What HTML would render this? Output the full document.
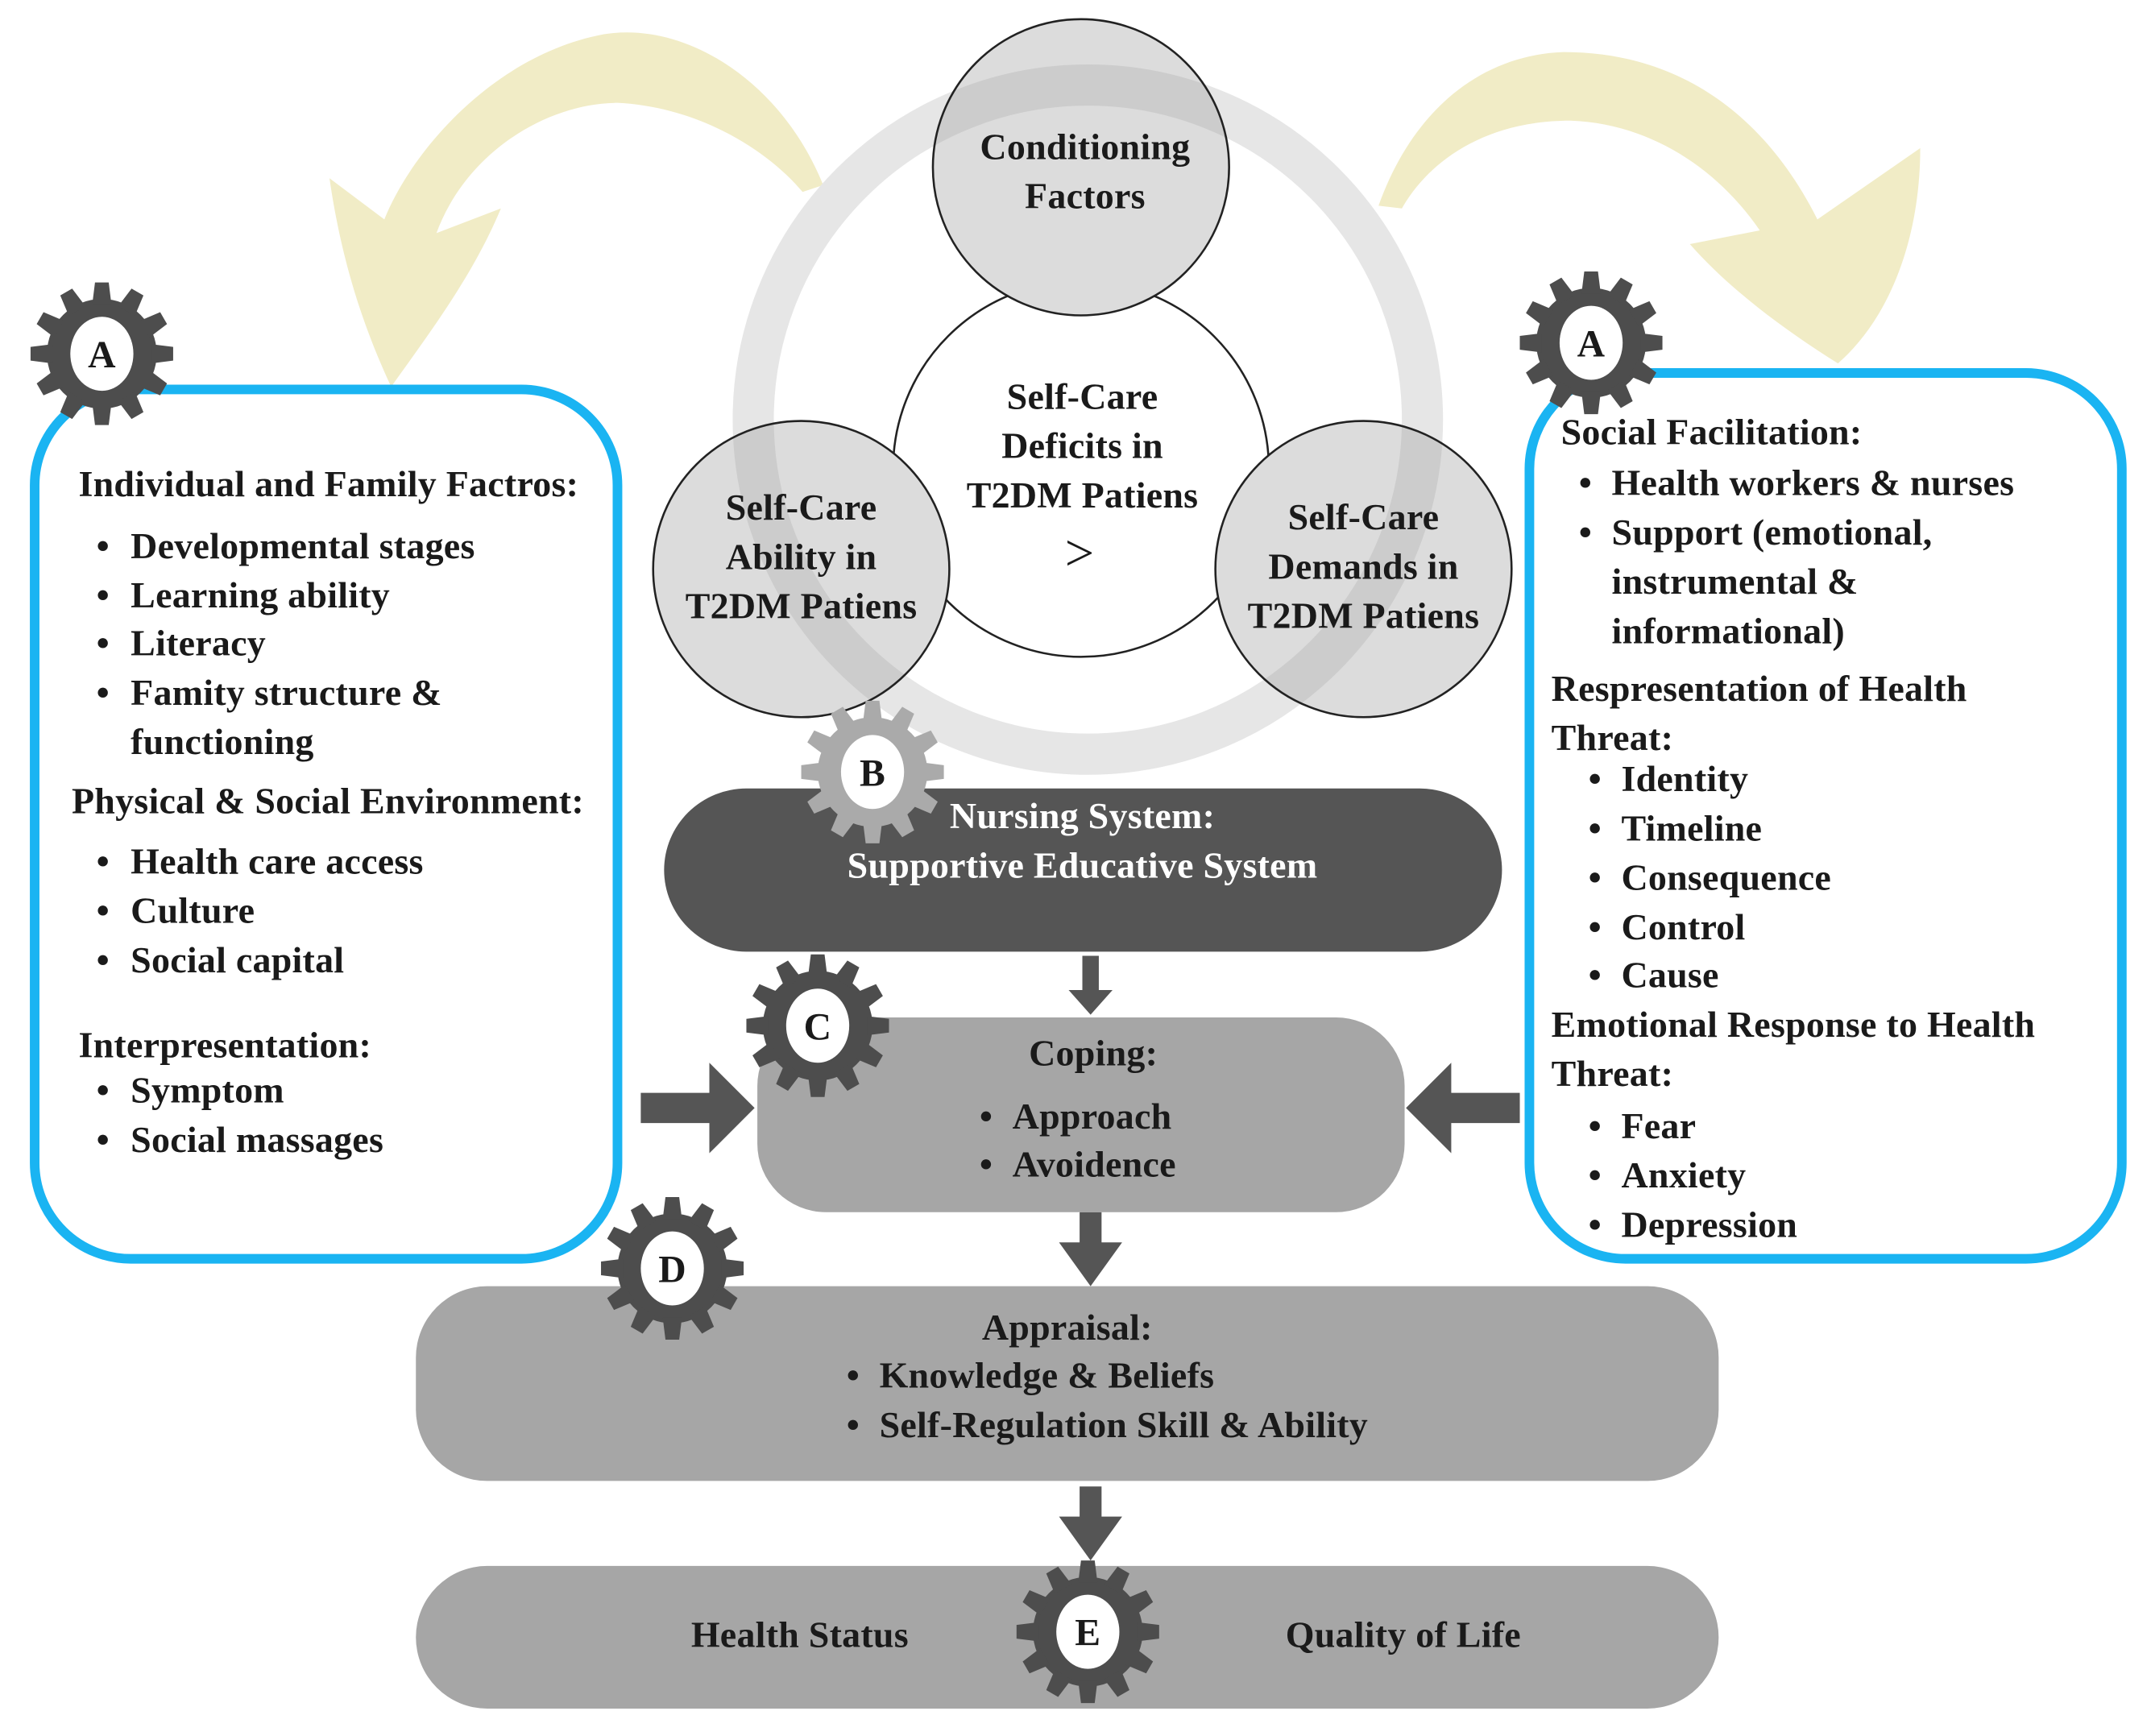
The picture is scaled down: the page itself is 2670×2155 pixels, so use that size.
<!DOCTYPE html>
<html><head><meta charset="utf-8"><style>
html,body{margin:0;padding:0;background:#fff;}
svg{display:block;}
text{font-family:"Liberation Serif",serif;font-weight:bold;fill:#1a1a1a;font-size:27px;letter-spacing:0.15px;}
</style></head><body>
<svg width="2670" height="2155" viewBox="0 0 1568 1266" xmlns="http://www.w3.org/2000/svg">
<defs>
<g id="gear">
<circle r="40" fill="currentColor"/>
<g fill="currentColor">
<path d="M-7,-36 L-5,-52 L5,-52 L7,-36Z"/>
<path d="M-7,-36 L-5,-52 L5,-52 L7,-36Z" transform="rotate(30)"/>
<path d="M-7,-36 L-5,-52 L5,-52 L7,-36Z" transform="rotate(60)"/>
<path d="M-7,-36 L-5,-52 L5,-52 L7,-36Z" transform="rotate(90)"/>
<path d="M-7,-36 L-5,-52 L5,-52 L7,-36Z" transform="rotate(120)"/>
<path d="M-7,-36 L-5,-52 L5,-52 L7,-36Z" transform="rotate(150)"/>
<path d="M-7,-36 L-5,-52 L5,-52 L7,-36Z" transform="rotate(180)"/>
<path d="M-7,-36 L-5,-52 L5,-52 L7,-36Z" transform="rotate(210)"/>
<path d="M-7,-36 L-5,-52 L5,-52 L7,-36Z" transform="rotate(240)"/>
<path d="M-7,-36 L-5,-52 L5,-52 L7,-36Z" transform="rotate(270)"/>
<path d="M-7,-36 L-5,-52 L5,-52 L7,-36Z" transform="rotate(300)"/>
<path d="M-7,-36 L-5,-52 L5,-52 L7,-36Z" transform="rotate(330)"/>
</g>
<ellipse rx="23" ry="27" fill="#fff"/>
</g>
<clipPath id="cc">
<circle cx="788" cy="122" r="108"/>
<circle cx="584" cy="415" r="108"/>
<circle cx="994" cy="415" r="108"/>
</clipPath>
</defs>

<!-- yellow arrows -->
<path d="M600,135 C570,60 500,15 440,25 C360,40 300,110 280,160 L240,130 C250,200 270,250 285,282 C315,240 345,200 365,152 L318,170 C340,110 400,75 450,75 C510,78 560,110 585,140 Z" fill="#f1ecc6"/>
<path d="M1005,150 C1030,80 1080,40 1140,38 C1230,38 1290,90 1325,160 L1400,108 C1400,170 1380,230 1340,265 C1300,240 1260,210 1232,178 L1283,168 C1250,120 1200,90 1145,88 C1080,88 1040,120 1022,152 Z" fill="#f1ecc6"/>

<!-- ring -->
<circle cx="793" cy="306" r="244" fill="none" stroke="#e6e6e6" stroke-width="30"/>

<!-- circles -->
<circle cx="788" cy="342" r="137" fill="#fff" stroke="#222" stroke-width="1.5"/>
<circle cx="788" cy="122" r="108" fill="#dcdcdc"/>
<circle cx="584" cy="415" r="108" fill="#dcdcdc"/>
<circle cx="994" cy="415" r="108" fill="#dcdcdc"/>
<circle cx="793" cy="306" r="244" fill="none" stroke="#aaa" stroke-opacity="0.3" stroke-width="30" clip-path="url(#cc)"/>
<g fill="none" stroke="#222" stroke-width="1.5">
<circle cx="788" cy="122" r="108"/>
<circle cx="584" cy="415" r="108"/>
<circle cx="994" cy="415" r="108"/>
</g>
<text x="791" y="116" text-anchor="middle">Conditioning</text>
<text x="791" y="152" text-anchor="middle">Factors</text>
<text x="789" y="298" text-anchor="middle">Self-Care</text>
<text x="789" y="334" text-anchor="middle">Deficits in</text>
<text x="789" y="370" text-anchor="middle">T2DM Patiens</text>
<text x="787" y="416" text-anchor="middle" style="font-size:38px;font-weight:normal">&gt;</text>
<text x="584" y="379" text-anchor="middle">Self-Care</text>
<text x="584" y="415" text-anchor="middle">Ability in</text>
<text x="584" y="451" text-anchor="middle">T2DM Patiens</text>
<text x="994" y="386" text-anchor="middle">Self-Care</text>
<text x="994" y="422" text-anchor="middle">Demands in</text>
<text x="994" y="458" text-anchor="middle">T2DM Patiens</text>

<!-- side boxes -->
<rect x="25" y="284" width="425" height="634" rx="70" fill="#fff" stroke="#1ab4f2" stroke-width="7"/>
<rect x="1115" y="272" width="432" height="646" rx="70" fill="#fff" stroke="#1ab4f2" stroke-width="7"/>

<!-- left text -->
<g>
<text x="57" y="362">Individual and Family Factros:</text>
<text x="70" y="407">•</text><text x="95" y="407">Developmental stages</text>
<text x="70" y="443">•</text><text x="95" y="443">Learning ability</text>
<text x="70" y="478">•</text><text x="95" y="478">Literacy</text>
<text x="70" y="514">•</text><text x="95" y="514">Famity structure &amp;</text>
<text x="95" y="550">functioning</text>
<text x="52" y="593">Physical &amp; Social Environment:</text>
<text x="70" y="637">•</text><text x="95" y="637">Health care access</text>
<text x="70" y="673">•</text><text x="95" y="673">Culture</text>
<text x="70" y="709">•</text><text x="95" y="709">Social capital</text>
<text x="57" y="771">Interpresentation:</text>
<text x="70" y="804">•</text><text x="95" y="804">Symptom</text>
<text x="70" y="840">•</text><text x="95" y="840">Social massages</text>
</g>
<!-- right text -->
<g>
<text x="1138" y="324">Social Facilitation:</text>
<text x="1151" y="361">•</text><text x="1175" y="361">Health workers &amp; nurses</text>
<text x="1151" y="397">•</text><text x="1175" y="397">Support (emotional,</text>
<text x="1175" y="433">instrumental &amp;</text>
<text x="1175" y="469">informational)</text>
<text x="1131" y="511">Respresentation of Health</text>
<text x="1131" y="547">Threat:</text>
<text x="1158" y="577">•</text><text x="1182" y="577">Identity</text>
<text x="1158" y="613">•</text><text x="1182" y="613">Timeline</text>
<text x="1158" y="649">•</text><text x="1182" y="649">Consequence</text>
<text x="1158" y="685">•</text><text x="1182" y="685">Control</text>
<text x="1158" y="720">•</text><text x="1182" y="720">Cause</text>
<text x="1131" y="756">Emotional Response to Health</text>
<text x="1131" y="792">Threat:</text>
<text x="1158" y="830">•</text><text x="1182" y="830">Fear</text>
<text x="1158" y="866">•</text><text x="1182" y="866">Anxiety</text>
<text x="1158" y="902">•</text><text x="1182" y="902">Depression</text>
</g>

<!-- nursing bar -->
<rect x="484" y="575" width="611" height="119" rx="60" fill="#555"/>
<text x="789" y="604" text-anchor="middle" style="fill:#fff">Nursing System:</text>
<text x="789" y="640" text-anchor="middle" style="fill:#fff">Supportive Educative System</text>

<!-- arrows -->
<g fill="#555">
<path d="M789,697 h12 v25 h10 l-16,18 l-16,-18 h10 Z"/>
<path d="M467,797 h50 v-22 l33,33 l-33,33 v-22 h-50 Z"/>
<path d="M1108,797 h-50 v-22 l-33,33 l33,33 v-22 h50 Z"/>
<path d="M787,884 h16 v22 h15 l-23,32 l-23,-32 h15 Z"/>
<path d="M787,1084 h16 v22 h15 l-23,32 l-23,-32 h15 Z"/>
</g>

<!-- coping -->
<rect x="552" y="742" width="472" height="142" rx="50" fill="#a6a6a6"/>
<text x="797" y="777" text-anchor="middle">Coping:</text>
<text x="714" y="823">•</text><text x="738" y="823">Approach</text>
<text x="714" y="858">•</text><text x="738" y="858">Avoidence</text>

<!-- appraisal -->
<rect x="303" y="938" width="950" height="142" rx="52" fill="#a6a6a6"/>
<text x="778" y="977" text-anchor="middle">Appraisal:</text>
<text x="617" y="1012">•</text><text x="641" y="1012">Knowledge &amp; Beliefs</text>
<text x="617" y="1048">•</text><text x="641" y="1048">Self-Regulation Skill &amp; Ability</text>

<!-- bottom -->
<rect x="303" y="1142" width="950" height="104" rx="52" fill="#a6a6a6"/>
<text x="583" y="1201" text-anchor="middle">Health Status</text>
<text x="1023" y="1201" text-anchor="middle">Quality of Life</text>

<!-- gears -->
<use href="#gear" x="74" y="258" style="color:#4d4d4d"/>
<text x="74" y="268" text-anchor="middle" style="font-size:28px">A</text>
<use href="#gear" x="1160" y="250" style="color:#4d4d4d"/>
<text x="1160" y="260" text-anchor="middle" style="font-size:28px">A</text>
<use href="#gear" x="636" y="563" style="color:#aaaaaa"/>
<text x="636" y="573" text-anchor="middle" style="font-size:28px">B</text>
<use href="#gear" x="596" y="748" style="color:#4d4d4d"/>
<text x="596" y="758" text-anchor="middle" style="font-size:28px">C</text>
<use href="#gear" x="490" y="925" style="color:#4d4d4d"/>
<text x="490" y="935" text-anchor="middle" style="font-size:28px">D</text>
<use href="#gear" x="793" y="1190" style="color:#4d4d4d"/>
<text x="793" y="1200" text-anchor="middle" style="font-size:28px">E</text>
</svg>
</body></html>
